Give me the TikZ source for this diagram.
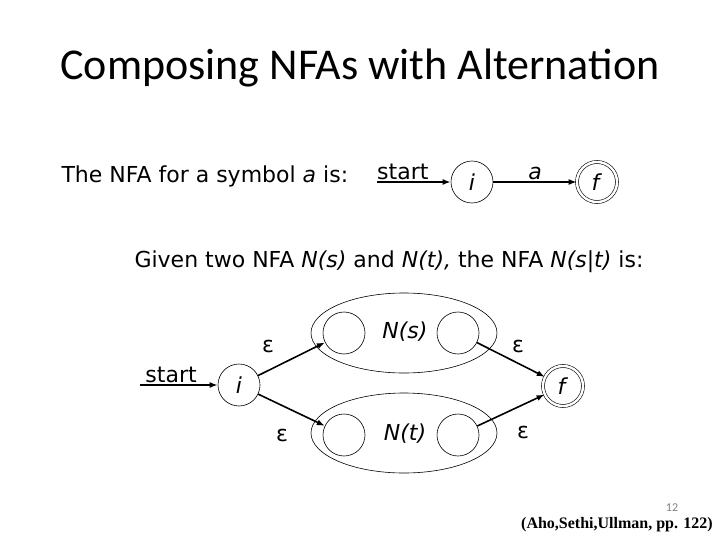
\documentclass[tikz,border=0pt]{standalone}
\usepackage{fontspec}
\setmainfont{DejaVu Sans}
\newfontfamily\titlefont{Carlito}
\newfontfamily\citefont{Liberation Serif}
\usetikzlibrary{arrows.meta,shapes.geometric}

\tikzset{
  state/.style={circle,draw,line width=0.6pt,minimum size=42pt,inner sep=0pt},
  accept/.style={state,minimum size=40pt,double,double distance=2.4pt},
  machine/.style={ellipse,draw,line width=0.6pt,minimum width=186pt,minimum height=80pt,inner sep=0pt},
  edge/.style={->,line width=1.6pt},
  lbl/.style={inner sep=1pt}
}

\begin{document}
\begin{tikzpicture}[x=1pt,y=-1pt,>={Latex[length=8pt,width=6pt]},font=\fontsize{22}{26}\selectfont]
  \useasboundingbox (0,0) rectangle (720,540);
  \node (title) at (360,68) {\titlefont\fontsize{44}{52}\selectfont Composing NFAs with Alternation};

  % a single symbol
  \node[anchor=west] (symtxt) at (58,176) {The NFA for a symbol \textit{a} is:};
  \coordinate (s1) at (377,182);
  \node[state] (i1) at (472,182) {\textit{i}};
  \node[accept] (f1) at (597,182) {\textit{f}};
  \draw[edge] (s1) -- (i1) node[lbl,pos=0.35,above]{start};
  \draw[edge] (i1) -- (f1) node[lbl,midway,above]{\textit{a}};

  % alternation
  \node[anchor=west] (givtxt) at (131,262) {Given two NFA \textit{N(s)} and \textit{N(t),} the NFA \textit{N(s|t)} is:};
  \node[machine] (ns) at (404,333) {};
  \node[state] (ns1) at (344,333) {};
  \node[state] (ns2) at (458,333) {};
  \node (nslbl) at (405,332) {\textit{N(s)}};
  \node[machine] (nt) at (404,433) {};
  \node[state] (nt1) at (344,435) {};
  \node[state] (nt2) at (458,435) {};
  \node (ntlbl) at (405,434) {\textit{N(t)}};

  \coordinate (s2) at (140,385);
  \node[state] (i2) at (239,385) {\textit{i}};
  \node[accept] (f2) at (563,386) {\textit{f}};
  \draw[edge] (s2) -- (i2) node[lbl,pos=0.4,above]{start};
  \draw[edge] (i2) -- (ns1);
  \draw[edge] (i2) -- (nt1);
  \draw[edge] (ns2) -- (f2);
  \draw[edge] (nt2) -- (f2);
  \node (eps1) at (268,346) {ε};
  \node (eps2) at (518,346) {ε};
  \node (eps3) at (282,435) {ε};
  \node (eps4) at (523,432) {ε};

  % footer
  \node[text=black!50,inner sep=0pt] (pgnum) at (672,508) {\titlefont\fontsize{12}{14}\selectfont 12};
  \node[anchor=east,inner sep=0pt] (cite) at (713,525) {\citefont\bfseries\fontsize{16}{18}\selectfont (Aho,Sethi,Ullman, pp. 122)};
\end{tikzpicture}
\end{document}
